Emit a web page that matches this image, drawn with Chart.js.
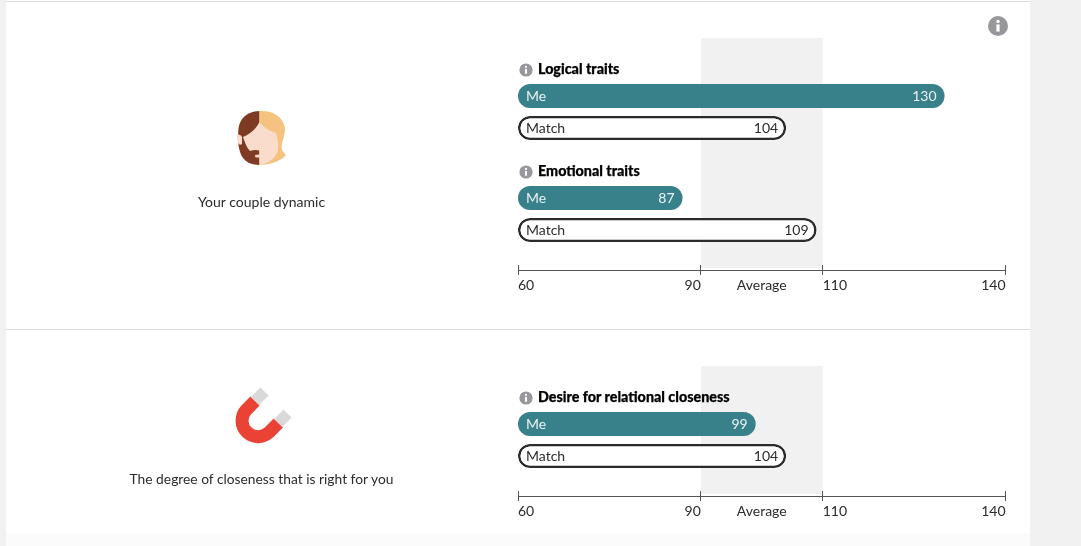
<!DOCTYPE html>
<html>
<head>
<meta charset="utf-8">
<script src="https://cdn.jsdelivr.net/npm/chart.js@4/dist/chart.umd.min.js"></script>
<style>
html, body { margin: 0; padding: 0; }
body { width: 1081px; height: 546px; overflow: hidden; background: #fff; position: relative; font-family: Lato, sans-serif; color: #2b2b2b; }
.side { position: absolute; top: 0; height: 546px; background: #f1f1f1; }
.foot { position: absolute; left: 6px; top: 533px; width: 1024px; height: 13px; background: #fbfbfb; }
.rule { position: absolute; left: 6px; width: 1024px; height: 1px; background: #dcdcdc; }
canvas { position: absolute; }
.caption { position: absolute; left: 100px; width: 323px; text-align: center; font-size: 14px; line-height: 18px; }
.heading { position: absolute; left: 538px; font-size: 14.3px; line-height: 18px; font-weight: 900; color: #000; white-space: nowrap; -webkit-text-stroke: 0.25px #000; }
svg { position: absolute; left: 0; top: 0; }
</style>
</head>
<body>
<div class="side" style="left:0;width:6px"></div>
<div class="side" style="left:1030px;width:51px"></div>
<div class="foot"></div>
<div class="rule" style="top:1px"></div>
<div class="rule" style="top:329px"></div>

<canvas id="logical" style="left:500px;top:38px" width="530" height="112"></canvas>
<canvas id="emotional" style="left:500px;top:150px" width="530" height="118"></canvas>
<canvas id="axisTop" style="left:500px;top:265px" width="530" height="35"></canvas>
<canvas id="closeness" style="left:500px;top:366px" width="530" height="128"></canvas>
<canvas id="axisBottom" style="left:500px;top:491px" width="530" height="35"></canvas>

<svg width="1081" height="546" viewBox="0 0 1081 546">
  <defs>
    <g id="info">
      <circle r="10" fill="#98989c"/>
      <circle cy="-4.6" r="1.7" fill="#fff"/>
      <rect x="-1.6" y="-1.6" width="3.2" height="7.2" fill="#fff"/>
    </g>
  </defs>
  <use href="#info" transform="translate(998 26)"/>
  <use href="#info" transform="translate(526 70) scale(.66)"/>
  <use href="#info" transform="translate(526 172) scale(.66)"/>
  <use href="#info" transform="translate(526 398) scale(.66)"/>

  <!-- couple head -->
  <path d="M259.500 111C248 111 240 118 238.500 128C237.500 140 238 151 243 158C247 163 252 165 259.500 165Z" fill="#7e3a22"/>
  <path d="M259.500 111C272 110 283 116 285 128C285 137 281 143 281.700 148C282 151 284 153 286 155C283 160 270 165 259.500 165Z" fill="#f5c27f"/>
  <path d="M259.500 122C264 128 270 131 276 133C278 140 278.500 146 278 150C276 158 268 164 259.500 165L259.500 150.500C256 149.500 253 150 250 151C247 148 245 143 243 137C250 134 256 129 259.500 122Z" fill="#f9dccb"/>
  <path d="M237 135C239 134 241 135 242 137L242 144C240 146 238 144 237.500 141Z" fill="#f9dccb"/>
  <path d="M255 155L259.500 154.500L259.500 157.500L255.500 157.500Z" fill="#f9dccb"/>

  <!-- magnet -->
  <path d="M255 401L246.200 409.900A16 16 0 0 0 268.800 432.500L278.300 423" fill="none" stroke="#ea4335" stroke-width="13"/>
  <path d="M255 401L264.500 391.500M278.300 423L287.500 413.500" fill="none" stroke="#d9d9d9" stroke-width="11.500"/>
</svg>

<div class="caption" style="top:193px">Your couple dynamic</div>
<div class="caption" style="top:470px;font-size:13.8px">The degree of closeness that is right for you</div>
<div class="heading" style="top:60px">Logical traits</div>
<div class="heading" style="top:162px">Emotional traits</div>
<div class="heading" style="top:388px">Desire for relational closeness</div>

<script>
const rows = ['Me', 'Match'];
const logicalValues = [130, 104];
const emotionalValues = [87, 109];
const closenessValues = [99, 104];

const axisMin = 60;
const axisMax = 140;
const axisTicks = [60, 90, 110, 140];
const averageLow = 90;
const averageHigh = 110;
const averageLabel = 'Average';

const teal = '#38818a';
const ink = '#2b2b2b';
const font = "14px Lato, sans-serif";

// grey band behind the bars, from the average range
const bandPlugin = {
    id: 'band',
    beforeDatasetsDraw(chart) {
        const x = chart.scales.x;
        const left = x.getPixelForValue(averageLow);
        const right = x.getPixelForValue(averageHigh);
        chart.ctx.save();
        chart.ctx.fillStyle = '#f1f1f1';
        chart.ctx.fillRect(left, 0, right - left, chart.height);
        chart.ctx.restore();
    }
};

// row name at the start of each bar, value at its end
const barLabelPlugin = {
    id: 'barLabels',
    afterDatasetsDraw(chart) {
        const ctx = chart.ctx;
        const values = chart.data.datasets[0].data;
        ctx.save();
        ctx.font = font;
        ctx.textBaseline = 'middle';
        chart.getDatasetMeta(0).data.forEach((bar, i) => {
            ctx.fillStyle = i === 0 ? 'rgba(255,255,255,0.9)' : ink;
            ctx.textAlign = 'left';
            ctx.fillText(rows[i], chart.scales.x.getPixelForValue(axisMin) + 8, bar.y);
            ctx.textAlign = 'right';
            ctx.fillText(values[i], bar.x - 8, bar.y);
        });
        ctx.restore();
    }
};

// tick labels sit inside the band edges, so each gets its own alignment
const axisLabelPlugin = {
    id: 'axisLabels',
    afterDraw(chart) {
        const ctx = chart.ctx;
        const x = chart.scales.x;
        const y = chart.chartArea.bottom + 15;
        ctx.save();
        ctx.font = font;
        ctx.fillStyle = ink;
        ctx.textBaseline = 'middle';
        axisTicks.forEach(t => {
            ctx.textAlign = (t === axisMin || t === averageHigh) ? 'left' : 'right';
            ctx.fillText(t, x.getPixelForValue(t), y);
        });
        ctx.textAlign = 'center';
        ctx.fillText(averageLabel, x.getPixelForValue((averageLow + averageHigh) / 2), y);
        ctx.restore();
    }
};

function barChart(id, values, padTop, padBottom) {
    return new Chart(document.getElementById(id), {
        type: 'bar',
        data: {
            labels: rows,
            datasets: [{
                data: values,
                base: axisMin,
                backgroundColor: [teal, '#fff'],
                borderColor: [teal, ink],
                borderWidth: [0, 2.5],
                borderRadius: 12,
                borderSkipped: false,
                inflateAmount: 0,
                barThickness: 24,
                clip: 2
            }]
        },
        options: {
            indexAxis: 'y',
            responsive: false,
            animation: false,
            devicePixelRatio: 1,
            layout: { padding: { left: 18, right: 24.5, top: padTop, bottom: padBottom } },
            plugins: { legend: { display: false }, tooltip: { enabled: false } },
            scales: {
                x: { type: 'linear', min: axisMin, max: axisMax, display: false },
                y: { display: false }
            }
        },
        plugins: [bandPlugin, barLabelPlugin]
    });
}

function axisChart(id) {
    return new Chart(document.getElementById(id), {
        type: 'bar',
        data: { labels: [], datasets: [{ data: [] }] },
        options: {
            indexAxis: 'y',
            responsive: false,
            animation: false,
            devicePixelRatio: 1,
            layout: { padding: { left: 18, right: 24.5 } },
            plugins: { legend: { display: false }, tooltip: { enabled: false } },
            scales: {
                x: {
                    type: 'linear',
                    min: axisMin,
                    max: axisMax,
                    afterBuildTicks: scale => { scale.ticks = axisTicks.map(value => ({ value })); },
                    afterFit: scale => { scale.height = 30; },
                    ticks: { display: false },
                    border: { color: '#555', width: 1 },
                    grid: { color: '#555', tickLength: 5 }
                },
                y: { display: false }
            }
        },
        plugins: [axisLabelPlugin]
    });
}

barChart('logical', logicalValues, 42, 6);
barChart('emotional', emotionalValues, 32, 22);
barChart('closeness', closenessValues, 42, 22);
axisChart('axisTop');
axisChart('axisBottom');
</script>
</body>
</html>
